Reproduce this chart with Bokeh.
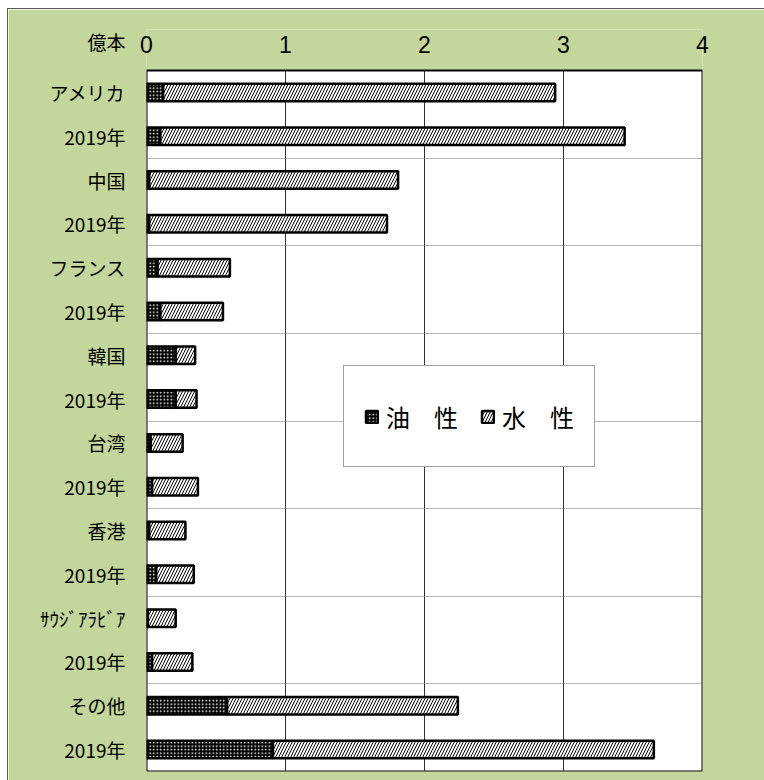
from bokeh.plotting import figure
from bokeh.models import ColumnDataSource, FixedTicker, Legend, LegendItem, Range1d
from bokeh.embed import file_html
from bokeh.resources import INLINE

categories = ["アメリカ", "2019年", "中国", "2019年", "フランス", "2019年", "韓国", "2019年",
              "台湾", "2019年", "香港", "2019年", "ｻｳｼﾞｱﾗﾋﾞｱ", "2019年", "その他", "2019年"]
oil = [0.12, 0.10, 0.02, 0.02, 0.08, 0.10, 0.21, 0.21,
       0.03, 0.04, 0.02, 0.07, 0.01, 0.04, 0.58, 0.91]
total = [2.94, 3.44, 1.81, 1.73, 0.60, 0.55, 0.35, 0.36,
         0.26, 0.37, 0.28, 0.34, 0.21, 0.33, 2.24, 3.65]
x_ticks = [0, 1, 2, 3, 4]
grid_x = [1, 2, 3]
unit_label = "億本"
legend_labels = ["油　性", "水　性"]

n = len(categories)
rows = [i + 0.5 for i in range(n)]
src = ColumnDataSource(dict(y=rows, oil=oil, total=total, zero=[0] * n))

GREEN = "#c3d69b"
# the frame reaches up into the caption band so the unit caption can be a y tick label
band_top = -0.936
unit_pos = -0.662
p = figure(width=756, height=771, output_backend="svg", toolbar_location=None,
           x_range=Range1d(0, 4), y_range=Range1d(n, band_top),
           x_axis_location="above", margin=(9, 0, 0, 8),
           min_border_left=138, min_border_right=62, min_border_top=20, min_border_bottom=9)
p.styles = {"outline": "1px solid #595959"}
p.border_fill_color = GREEN
p.background_fill_color = GREEN
p.outline_line_color = None

# white plot area with black edge
p.quad(left=[x_ticks[0]], right=[x_ticks[-1]], bottom=[n], top=[0],
       fill_color="white", line_color="black", line_width=2, level="image")
# vertical grid lines, limited to the plot area
p.segment(x0=grid_x, y0=[0] * len(grid_x), x1=grid_x, y1=[n] * len(grid_x),
          line_color="#303030", line_width=1, level="underlay")

oil_r = p.hbar(y="y", left="zero", right="oil", height=0.4, source=src,
               fill_color="black", line_color="black", line_width=2.5,
               hatch_pattern="dot", hatch_color="white", hatch_scale=3.5, hatch_weight=1.2)
water_r = p.hbar(y="y", left="oil", right="total", height=0.4, source=src,
                 fill_color="white", line_color="black", line_width=2.5,
                 hatch_pattern="/", hatch_color="black", hatch_scale=6, hatch_weight=1)

p.xaxis.ticker = FixedTicker(ticks=x_ticks)
p.xaxis.axis_line_color = None
p.xaxis.major_tick_line_color = None
p.xaxis.major_tick_out = 0
p.xaxis.minor_tick_line_color = None
p.xaxis.minor_tick_out = 0
p.xaxis.major_label_text_font = "Liberation Sans"
p.xaxis.major_label_text_font_size = "23px"
p.xaxis.major_label_text_color = "black"
p.xaxis.major_label_standoff = -23

overrides = {r: c for r, c in zip(rows, categories)}
overrides[unit_pos] = unit_label
p.yaxis.ticker = FixedTicker(ticks=[unit_pos] + rows)
p.yaxis.major_label_overrides = overrides
p.yaxis.axis_line_color = None
p.yaxis.major_tick_line_color = None
p.yaxis.minor_tick_line_color = None
p.yaxis.major_label_text_font = "Noto Sans CJK JP"
p.yaxis.major_label_text_font_size = "19px"
p.yaxis.major_label_text_color = "black"
p.yaxis.major_label_standoff = 15

p.xgrid.visible = False
p.ygrid.ticker = FixedTicker(ticks=[2, 4, 6, 8, 10, 12, 14])
p.ygrid.grid_line_color = "#707070"
p.ygrid.grid_line_dash = "1 1"
p.ygrid.grid_line_width = 1

legend = Legend(items=[LegendItem(label=legend_labels[0], renderers=[oil_r]),
                       LegendItem(label=legend_labels[1], renderers=[water_r])],
                orientation="horizontal", location=(197, 304),
                padding=20, label_height=60, glyph_height=15, glyph_width=15,
                spacing=22, label_standoff=7, margin=0,
                label_text_font="Noto Sans CJK JP", label_text_font_size="24px",
                label_text_color="black",
                border_line_color="#404040", border_line_width=1,
                background_fill_color="white", background_fill_alpha=1)
p.add_layout(legend, "center")

open("out.html", "w").write(file_html(p, INLINE))
